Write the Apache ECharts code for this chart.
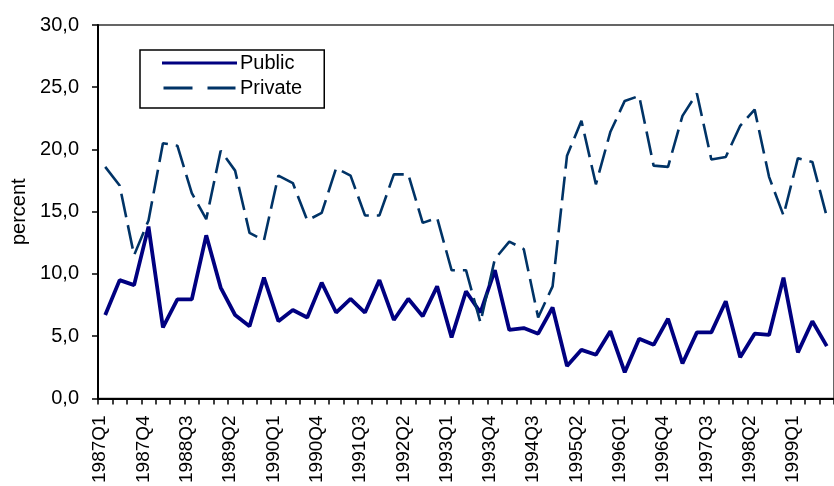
<!DOCTYPE html>
<html>
<head>
<meta charset="utf-8">
<script src="https://cdn.jsdelivr.net/npm/echarts@6.0.0/dist/echarts.min.js"></script>
<style>
    html, body { margin: 0; padding: 0; background: #fff; }
    #chart { width: 834px; height: 486px; }
</style>
</head>
<body>
<div id="chart"></div>
<script>
// quarters 1987Q1 .. 1999Q3
var quarters = [
    '1987Q1', '1987Q2', '1987Q3', '1987Q4', '1988Q1', '1988Q2', '1988Q3', '1988Q4',
    '1989Q1', '1989Q2', '1989Q3', '1989Q4', '1990Q1', '1990Q2', '1990Q3', '1990Q4',
    '1991Q1', '1991Q2', '1991Q3', '1991Q4', '1992Q1', '1992Q2', '1992Q3', '1992Q4',
    '1993Q1', '1993Q2', '1993Q3', '1993Q4', '1994Q1', '1994Q2', '1994Q3', '1994Q4',
    '1995Q1', '1995Q2', '1995Q3', '1995Q4', '1996Q1', '1996Q2', '1996Q3', '1996Q4',
    '1997Q1', '1997Q2', '1997Q3', '1997Q4', '1998Q1', '1998Q2', '1998Q3', '1998Q4',
    '1999Q1', '1999Q2', '1999Q3'
];

var publicVals = [
    6.7, 9.5, 9.1, 13.8, 5.7, 7.95, 7.95, 13.1,
    8.9, 6.7, 5.8, 9.7, 6.2, 7.1, 6.5, 9.3,
    6.9, 8.0, 6.9, 9.5, 6.3, 8.0, 6.6, 9.0,
    4.9, 8.6, 6.9, 10.3, 5.5, 5.65, 5.2, 7.3,
    2.6, 3.9, 3.5, 5.4, 2.1, 4.8, 4.3, 6.4,
    2.8, 5.3, 5.3, 7.8, 3.3, 5.2, 5.1, 9.7,
    3.7, 6.2, 4.2
];

var privateVals = [
    18.6, 17.1, 11.5, 14.3, 20.5, 20.3, 16.5, 14.4,
    19.9, 18.3, 13.3, 12.7, 17.9, 17.3, 14.3, 14.9,
    18.5, 17.9, 14.7, 14.7, 18.0, 18.0, 14.1, 14.5,
    10.3, 10.3, 6.1, 11.2, 12.6, 12.0, 6.5, 9.0,
    19.5, 22.3, 17.2, 21.4, 23.9, 24.3, 18.7, 18.6,
    22.7, 24.5, 19.2, 19.4, 21.9, 23.2, 17.8, 14.7,
    19.3, 19.0, 14.6
];

var seriesNames = ['Public', 'Private'];

var myChart = echarts.init(document.getElementById('chart'), null, { renderer: 'canvas' });
var font = 'Liberation Sans, Arial, sans-serif';

var option = {
    animation: false,
    backgroundColor: '#fff',
    grid: {
        left: 98,
        top: 25,
        width: 746,   // runs past the window edge like the source picture
        height: 375,
        show: true,
        borderColor: '#333',
        borderWidth: 1.5
    },
    legend: {
        orient: 'vertical',
        left: 140,
        top: 50,
        padding: [3, 22, 10, 22],
        itemWidth: 75,
        itemHeight: 3,
        itemGap: 5,
        borderColor: '#000',
        borderWidth: 1.5,
        textStyle: { fontFamily: font, fontSize: 20, color: '#000', lineHeight: 20, padding: [0, 0, 0, -2] },
        data: [
            { name: seriesNames[0], icon: 'path://M0,0H75V3H0Z' },
            // two long dashes, like the legend sample in the source
            { name: seriesNames[1], icon: 'path://M0,0H29V3H0Z M44,0H72V3H44Z' }
        ]
    },
    xAxis: {
        type: 'category',
        data: quarters,
        boundaryGap: true,
        axisLine: { lineStyle: { color: '#000', width: 2 } },
        axisTick: { show: true, interval: 0, length: 6, lineStyle: { color: '#000', width: 1.5 } },
        axisLabel: {
            interval: 2,
            rotate: 90,
            margin: 17,
            fontFamily: font,
            fontSize: 19,
            color: '#000',
            verticalAlign: 'bottom',
            lineHeight: 10
        },
        splitLine: { show: false }
    },
    yAxis: {
        type: 'value',
        min: 0,
        max: 30,
        interval: 5,
        name: 'percent',
        nameLocation: 'middle',
        nameGap: 68,
        nameRotate: 90,
        nameTextStyle: { fontFamily: font, fontSize: 20, color: '#000' },
        axisLine: { show: true, lineStyle: { color: '#000', width: 2 } },
        axisTick: { show: true, length: 6, lineStyle: { color: '#000', width: 1.5 } },
        axisLabel: {
            margin: 19,
            fontFamily: font,
            fontSize: 20,
            color: '#000',
            formatter: function (v) { return v.toFixed(1).replace('.', ','); }
        },
        splitLine: { show: false }
    },
    series: [
        {
            name: seriesNames[0],
            type: 'line',
            data: publicVals,
            symbol: 'none',
            color: '#000080',
            lineStyle: { color: '#000080', width: 3.8 }
        },
        {
            name: seriesNames[1],
            type: 'line',
            data: privateVals,
            symbol: 'none',
            color: '#003366',
            lineStyle: { color: '#003366', width: 2.6, type: [24, 8] }
        }
    ]
};

myChart.setOption(option);
</script>
</body>
</html>
